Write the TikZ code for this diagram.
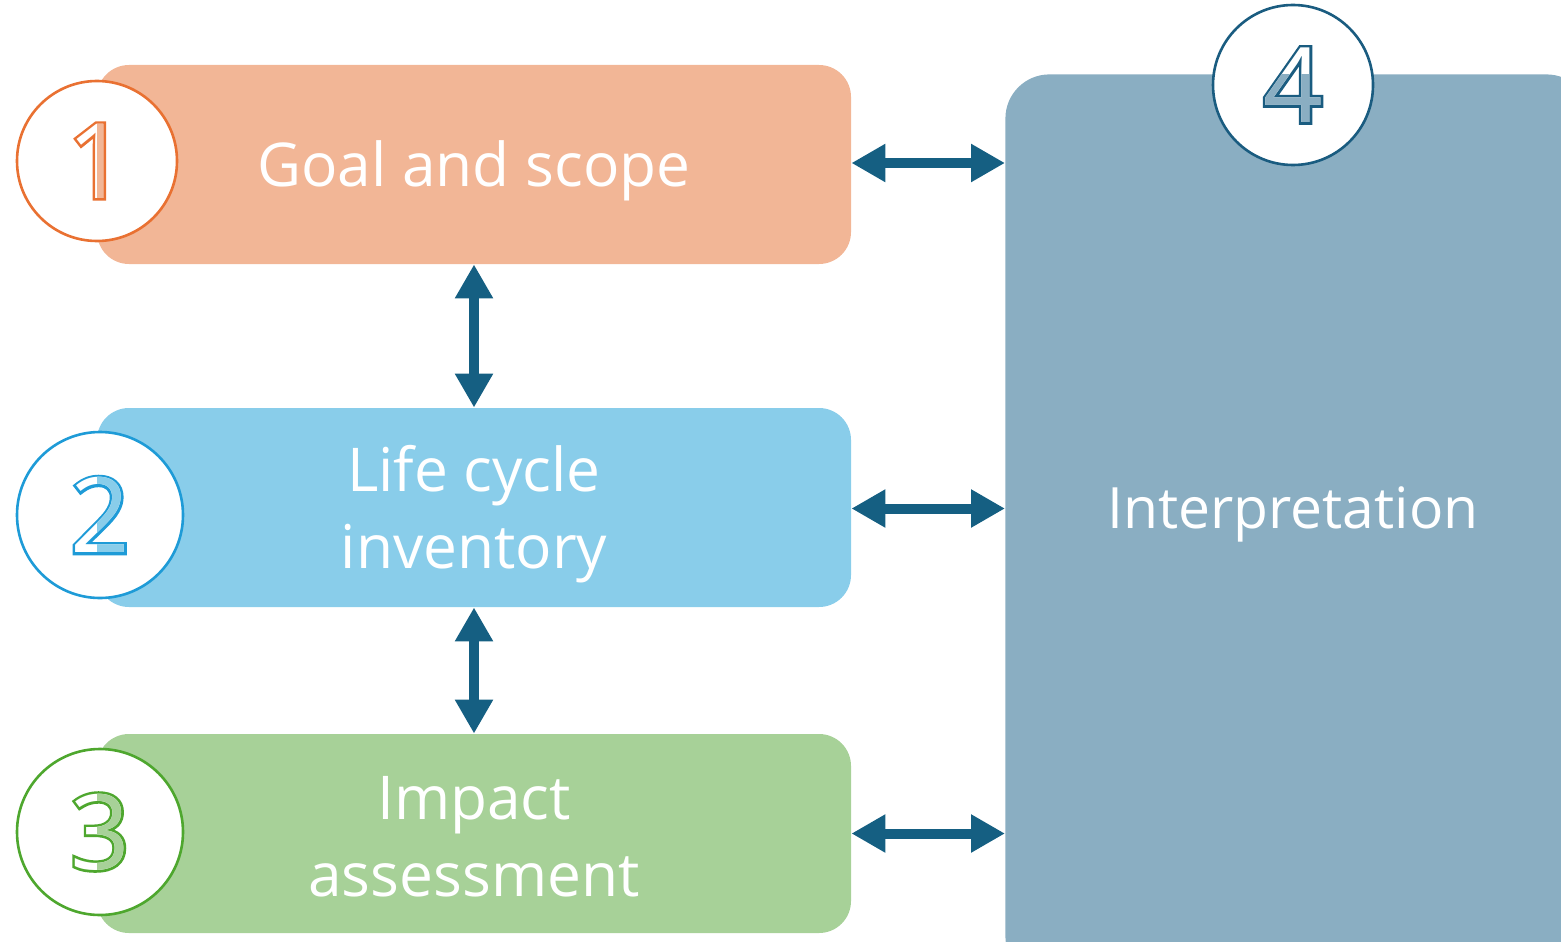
\documentclass[tikz,border=0pt]{standalone}
\usepackage{fontspec}
\setmainfont{Open Sans}
% heavy stroked cut of the same face, used as the outline behind each digit
\newfontfamily\digitstroke[FakeBold=5]{Open Sans}
\usetikzlibrary{arrows.meta}

\definecolor{goalFill}{HTML}{F2B696}
\definecolor{goalLine}{HTML}{E97132}
\definecolor{invFill}{HTML}{89CDEA}
\definecolor{invLine}{HTML}{1E9BD7}
\definecolor{impFill}{HTML}{A7D198}
\definecolor{impLine}{HTML}{4EA72E}
\definecolor{intFill}{HTML}{8AAEC2}
\definecolor{intLine}{HTML}{1A5C80}
\definecolor{arrowCol}{HTML}{155F82}

\tikzset{
  stagebox/.style={rectangle, rounded corners=16pt, draw=none,
    minimum width=377pt, minimum height=99.5pt},
  label/.style={text=white, align=center, inner sep=0pt,
    font=\fontsize{30.2}{38.5}\selectfont},
  badge/.style={circle, fill=white, line width=1.3pt, minimum size=#1, inner sep=0pt},
  digit/.style={font=\fontsize{52}{52}\selectfont, inner sep=0pt},
  digitedge/.style={font=\fontsize{52}{52}\digitstroke, inner sep=0pt},
  link/.style={draw=arrowCol, line width=5pt,
    {Triangle[width=18pt,length=17pt]}-{Triangle[width=18pt,length=17pt]}},
}

\begin{document}
\begin{tikzpicture}[x=0.5pt, y=-0.5pt]
  \useasboundingbox (0,0) rectangle (1561,941);
  \clip (0,0) rectangle (1561,941);

  % interpretation panel, running past the right and bottom edges
  \node[stagebox, fill=intFill, minimum width=292.5pt, minimum height=453pt,
        rounded corners=22pt, anchor=north west] (b4) at (1005,74) {};
  \node[label, font=\fontsize{28.5}{38}\selectfont] (t4) at (1293,514) {Interpretation};

  % the three stage boxes and their captions
  \node[stagebox, fill=goalFill] (b1) at (474,164.5) {};
  \node[stagebox, fill=invFill]  (b2) at (474,507.5) {};
  \node[stagebox, fill=impFill]  (b3) at (474,833.5) {};
  \node[label] (t1) at (474,171) {Goal and scope};
  \node[label] (t2) at (474,514) {Life cycle\\inventory};
  \node[label] (t3) at (474,837) {Impact\\assessment};

  % numbered badges
  \node[badge=80pt, draw=goalLine] (c1) at (97,161) {};
  \node[badge=83pt, draw=invLine]  (c2) at (100,515) {};
  \node[badge=83pt, draw=impLine]  (c3) at (100,832) {};
  \node[badge=80pt, draw=intLine]  (c4) at (1293,85) {};

  \node[digitedge, text=goalLine] (o1) at (c1) {1};
  \node[digitedge, text=invLine]  (o2) at (c2) {2};
  \node[digitedge, text=impLine]  (o3) at (c3) {3};
  \node[digitedge, text=intLine]  (o4) at (c4) {4};

  \node[digit, text=white] (d1) at (c1) {1};
  \node[digit, text=white] (d2) at (c2) {2};
  \node[digit, text=white] (d3) at (c3) {3};
  \node[digit, text=white] (d4) at (c4) {4};

  % where a digit lies over its box, the box colour shows through it
  \begin{scope}
    \clip[rounded corners=16pt] (b1.south west) rectangle (b1.north east);
    \node[digit, text=goalFill] (e1) at (c1) {1};
  \end{scope}
  \begin{scope}
    \clip[rounded corners=16pt] (b2.south west) rectangle (b2.north east);
    \node[digit, text=invFill] (e2) at (c2) {2};
  \end{scope}
  \begin{scope}
    \clip[rounded corners=16pt] (b3.south west) rectangle (b3.north east);
    \node[digit, text=impFill] (e3) at (c3) {3};
  \end{scope}
  \begin{scope}
    \clip[rounded corners=22pt] (b4.south west) rectangle (b4.north east);
    \node[digit, text=intFill] (e4) at (c4) {4};
  \end{scope}

  % two-way links
  \draw[link] (b1.south) -- (b2.north);
  \draw[link] (b2.south) -- (b3.north);
  \draw[link] ([yshift=0.75pt]b1.east) -- ([yshift=0.75pt]b1.east -| b4.west);
  \draw[link] ([yshift=-0.5pt]b2.east) -- ([yshift=-0.5pt]b2.east -| b4.west);
  \draw[link] (b3.east) -- (b3.east -| b4.west);
\end{tikzpicture}
\end{document}
